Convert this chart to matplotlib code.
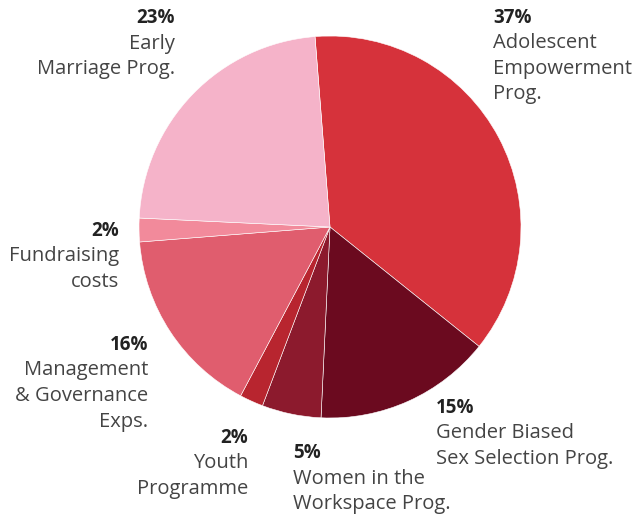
import matplotlib.pyplot as plt

# Données du graphique
categorias = ['Adolescent\nEmpowerment\nProg.', 'Gender Biased\nSex Selection Prog.',
              'Women in the\nWorkspace Prog.', 'Youth\nProgramme',
              'Management\n& Governance\nExps.', 'Fundraising\ncosts',
              'Early\nMarriage Prog.']
valores = [37, 15, 5, 2, 16, 2, 23]
cores = ['#d6323b', '#6b0a1f', '#8c1a2d', '#b8252f', '#e05d6e', '#f28a9b', '#f5b3c9']

# posição do rótulo (pixels: x, baseline do %), alinhamento
rotulos_pos = [(493, 23, 'left'), (436, 413, 'left'), (293, 458, 'left'),
               (248, 443, 'right'), (148, 350, 'right'), (119, 236, 'right'),
               (175, 23, 'right')]

W, H = 638, 514
fig = plt.figure(figsize=(W / 100, H / 100), dpi=100)
ax = fig.add_axes([0, 0, 1, 1])

ax.pie(valores, colors=cores, startangle=94.5, counterclock=False,
       center=(330, H - 227), radius=191,
       wedgeprops=dict(edgecolor='white', linewidth=0.4))

# a pizza redefine os limites, então ajusta depois
ax.set_xlim(0, W)
ax.set_ylim(0, H)
ax.set_aspect('equal')
ax.axis('off')

passo = 25.5
for cat, v, (x, y, ha) in zip(categorias, valores, rotulos_pos):
    ax.text(x, H - y, f'{v}%', ha=ha, va='baseline', fontsize=13.5,
            fontweight='bold', color='#222222', family='Open Sans')
    for i, linha in enumerate(cat.split('\n')):
        ax.text(x, H - y - passo * (i + 1), linha, ha=ha, va='baseline',
                fontsize=14.5, color='#444444', family='Open Sans')

fig.savefig('out.png', dpi=100)
